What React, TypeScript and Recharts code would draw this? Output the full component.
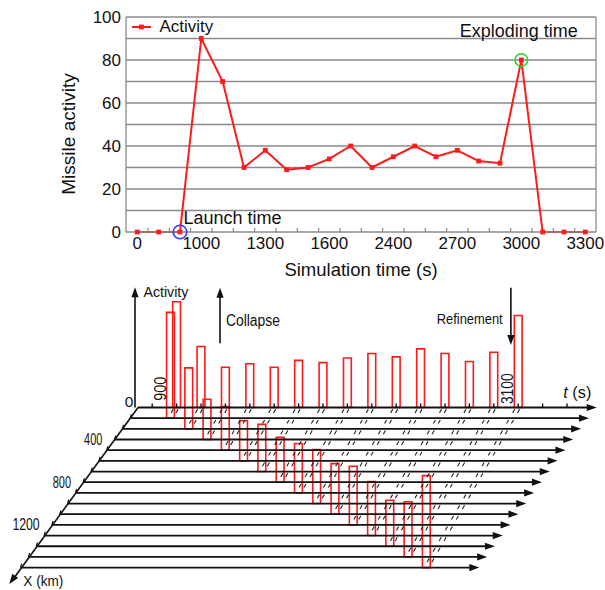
import React from "react";
import {
  LineChart,
  Line,
  XAxis,
  YAxis,
  ReferenceLine,
  ReferenceDot,
  ReferenceArea,
  Legend,
  ComposedChart,
  Scatter,
} from "recharts";

const FONT = "'Liberation Sans', Arial, Helvetica, sans-serif";
const RED = "#ff1a1a";
const GRID = "#8a8a8a";
const INK = "#111";

// ---------- top chart: activity over simulation time ----------
const pointIndex = [0, 1, 2, 3, 4, 5, 6, 7, 8, 9, 10, 11, 12, 13, 14, 15, 16, 17, 18, 19, 20, 21];
const activity = [0, 0, 0, 90, 70, 30, 38, 29, 30, 34, 40, 30, 35, 40, 35, 38, 33, 32, 80, 0, 0, 0];
const timeTickIndex = [0, 3, 6, 9, 12, 15, 18, 21];
const timeTickLabels = ["0", "1000", "1300", "1600", "2400", "2700", "3000", "3300"];
const activityTicks = [0, 20, 40, 60, 80, 100];
const gridValues = [10, 20, 30, 40, 50, 60, 70, 80, 90, 100];
const minorTickIndex = [0.5, 1.5, 2.5, 3.5, 4.5, 5.5, 6.5, 7.5, 8.5, 9.5, 10.5, 11.5, 12.5, 13.5, 14.5, 15.5, 16.5, 17.5, 18.5, 19.5, 20.5];
const LAUNCH = 2;
const EXPLODE = 18;

// ---------- bottom diagram: activity per step on the X (km) rows ----------
const stepIndex = [1, 2, 3, 4, 5, 6, 7, 8, 9, 10, 11, 12, 13, 14, 15];
const stepActivity = [92, 53, 35, 38, 35, 41, 39, 43, 47, 44, 51, 47, 40, 48, 80];
const rowIndex = [0, 1, 2, 3, 4, 5, 6, 7, 8, 9, 10, 11, 12, 13, 14, 15];
const tAxisTicks = [0, 1, 2, 3, 4, 5, 6, 7, 8, 9, 10, 11, 12, 13, 14, 15, 16, 17];
const tAxisLabelTicks = [0, 15];
const tAxisLabels = ["900", "3100"];
const kmLabels = ["0", "400", "800", "1200"];
const kmLabelRows = [0, 3, 7, 11];

const lineData = pointIndex.map((i) => ({ i, activity: activity[i] }));

function SquareDot(props: any) {
  const { cx, cy, index } = props;
  return <rect key={index} x={cx - 2.4} y={cy - 2.4} width={4.8} height={4.8} fill={RED} />;
}

function ActivityLegend() {
  return (
    <div style={{ display: "flex", alignItems: "center", fontFamily: FONT, fontSize: 17, color: INK, lineHeight: "20px" }}>
      <svg width={19} height={10} style={{ marginRight: 9 }}>
        <line x1={0} y1={5} x2={19} y2={5} stroke={RED} strokeWidth={2} />
        <rect x={7} y={2.6} width={4.8} height={4.8} fill={RED} />
      </svg>
      Activity
    </div>
  );
}

function TopChart() {
  const tick = { fontSize: 17, fill: INK, fontFamily: FONT };
  return (
    <LineChart width={605} height={282} data={lineData} margin={{ top: 17, right: 9, bottom: 0, left: 0 }}>
      {gridValues.map((v) => (
        <ReferenceLine key={"g" + v} y={v} stroke={GRID} strokeWidth={1.3} ifOverflow="visible" />
      ))}
      <ReferenceLine x={21.5} stroke={GRID} strokeWidth={1.3} ifOverflow="visible" />
      {minorTickIndex.map((t) => (
        <ReferenceLine key={"m" + t} segment={[{ x: t, y: 0 }, { x: t, y: 1.9 }]} stroke="#777" ifOverflow="visible" />
      ))}
      <XAxis
        type="number"
        dataKey="i"
        domain={[-0.53, 21.5]}
        ticks={timeTickIndex}
        interval={0}
        tickFormatter={(v: number) => timeTickLabels[timeTickIndex.indexOf(v)]}
        tickLine={false}
        tickSize={3}
        tickMargin={2}
        height={50}
        axisLine={{ stroke: GRID, strokeWidth: 1.3 }}
        tick={tick}
        label={{
          content: () => (
            <text x={361} y={275.5} textAnchor="middle" fontSize={18.5} fontFamily={FONT} fill={INK}>
              Simulation time (s)
            </text>
          ),
        }}
      />
      <YAxis
        type="number"
        domain={[0, 100]}
        ticks={activityTicks}
        interval={0}
        width={126}
        tickLine={false}
        tickSize={3}
        tickMargin={2}
        axisLine={{ stroke: GRID, strokeWidth: 1.3 }}
        tick={tick}
        label={{
          content: () => (
            <text transform="translate(68,134) rotate(-90)" textAnchor="middle" dominantBaseline="central" fontSize={19} fontFamily={FONT} fill={INK}>
              Missile activity
            </text>
          ),
        }}
      />
      <Legend
        layout="vertical"
        align="center"
        verticalAlign="middle"
        wrapperStyle={{ left: 131.5, top: 17, width: 120, height: 20 }}
        content={() => <ActivityLegend />}
      />
      <Line type="linear" dataKey="activity" stroke={RED} strokeWidth={2} dot={SquareDot} activeDot={false} isAnimationActive={false} />
      <ReferenceDot x={LAUNCH} y={0} r={6.8} fill="none" stroke="#2f3cff" strokeWidth={1.6} />
      <ReferenceDot x={EXPLODE} y={activity[EXPLODE]} r={6.3} fill="none" stroke="#2bd62b" strokeWidth={1.6} />
      <ReferenceDot
        x={LAUNCH}
        y={0}
        r={0}
        shape={(p: any) => (
          <text x={p.cx + 3.4} y={p.cy - 8.2} fontSize={18} fontFamily={FONT} fill={INK}>
            Launch time
          </text>
        )}
      />
      <ReferenceDot
        x={EXPLODE}
        y={activity[EXPLODE]}
        r={0}
        shape={(p: any) => (
          <text x={p.cx - 2.5} y={p.cy - 23} textAnchor="middle" fontSize={18} fontFamily={FONT} fill={INK}>
            Exploding time
          </text>
        )}
      />
    </LineChart>
  );
}

// projection of the pseudo 3D diagram (tick units across, activity units up)
const TICK_PX = 24.4;
const UNIT_PX = 1.15;
const ORIGIN_X = 152.2;
const ORIGIN_Y = 127.5;
const W2 = 605;
const H2 = 310;
const U_MIN = -ORIGIN_X / TICK_PX;
const U_MAX = (W2 - ORIGIN_X) / TICK_PX;
const V_MAX = ORIGIN_Y / UNIT_PX;
const V_MIN = -(H2 - ORIGIN_Y) / UNIT_PX;
const ROW_DY = 9.28;
const ROW_SHIFT = 0.321;
const BAR_SHIFT = 0.251;
const BAR_HALF = 0.16;
const ROW_START = -0.58;
const ROW_END = 18.22;
const AXIS_U = -0.705;
const AXIS_TOP = 104.5;
const DIAG_END = { u: -5.857, v: -153.5 };
const COLLAPSE_U = 2.78;
const REFINE_U = 14.7;

const rowV = (k: number) => -k * ROW_DY;
const rowStartU = (k: number) => ROW_START - k * ROW_SHIFT;

const arrowHeads = [
  ...rowIndex.map((k) => ({ u: ROW_END - k * ROW_SHIFT, v: rowV(k), angle: 0 })),
  { u: DIAG_END.u, v: DIAG_END.v, angle: 126.2 },
  { u: AXIS_U, v: AXIS_TOP, angle: -90 },
  { u: COLLAPSE_U, v: 104.1, angle: -90 },
  { u: REFINE_U, v: 54.3, angle: 90 },
];

const kmWidths = [undefined, 18.3, 18.3, 27.3];
const diagramLabels: any[] = [
  { u: -0.36, v: 96, text: "Activity", size: 15.5, width: 45 },
  { u: 3.02, v: 71.3, text: "Collapse", size: 16, width: 54 },
  { u: 11.66, v: 72.6, text: "Refinement", size: 15.5, width: 66 },
  { u: 16.85, v: 8.3, italic: "t", text: " (s)", size: 16, width: 28 },
  { u: -5.28, v: -155.2, text: "X (km)", size: 15.5, width: 40 },
  ...tAxisLabels.map((text, i) => ({
    u: tAxisLabelTicks[i] + (i === 0 ? 0.34 : -0.44),
    v: 16.3,
    text,
    size: 16,
    rotate: -90,
    anchor: "middle",
    baseline: "central",
    width: i === 0 ? 24 : 30.6,
  })),
  ...kmLabels.map((text, i) => ({
    u: rowStartU(kmLabelRows[i]) - (i === 0 ? 0.19 : 0.5),
    v: rowV(kmLabelRows[i]) + (i === 0 ? 5.6 : 0),
    text,
    size: i === 0 ? 15.5 : 17,
    anchor: "end",
    baseline: "central",
    width: kmWidths[i],
  })),
];

function ArrowHead(p: any) {
  const { cx, cy, payload } = p;
  return (
    <polygon
      points="0,0 -10,-3.6 -10,3.6"
      transform={`translate(${cx},${cy}) rotate(${payload.angle})`}
      fill={INK}
    />
  );
}

function DiagramText(p: any) {
  const { cx, cy, payload: d } = p;
  const rot = d.rotate ? ` rotate(${d.rotate})` : "";
  return (
    <text
      transform={`translate(${cx},${cy})${rot}`}
      textAnchor={d.anchor ?? "start"}
      dominantBaseline={d.baseline ?? "auto"}
      fontSize={d.size}
      fontFamily={FONT}
      fill={INK}
      textLength={d.width}
      lengthAdjust={d.width ? "spacingAndGlyphs" : undefined}
    >
      {d.italic ? <tspan fontStyle="italic">{d.italic}</tspan> : null}
      {d.text}
    </text>
  );
}

function BottomDiagram() {
  const seg = (a: [number, number], b: [number, number]) => [
    { x: a[0], y: a[1] },
    { x: b[0], y: b[1] },
  ];
  // dash pattern along the skewed guide lines, one short stroke under each row
  const guideLen = Math.hypot(BAR_SHIFT * TICK_PX, ROW_DY * UNIT_PX);
  return (
    <ComposedChart width={W2} height={H2} margin={{ top: 0, right: 0, bottom: 0, left: 0 }}>
      <XAxis type="number" dataKey="u" domain={[U_MIN, U_MAX]} allowDataOverflow hide />
      <YAxis type="number" dataKey="v" domain={[V_MIN, V_MAX]} allowDataOverflow hide />

      {rowIndex.map((k) => (
        <ReferenceLine
          key={"row" + k}
          segment={seg([rowStartU(k), rowV(k)], [ROW_END - k * ROW_SHIFT - 0.3, rowV(k)])}
          stroke={INK}
          strokeWidth={1.8}
          ifOverflow="visible"
        />
      ))}
      <ReferenceLine segment={seg([ROW_START, 0], [DIAG_END.u + 0.15, DIAG_END.v + 4])} stroke={INK} strokeWidth={1.6} ifOverflow="visible" />
      {rowIndex.slice(1).map((k) => (
        <ReferenceLine
          key={"dt" + k}
          segment={seg([rowStartU(k), rowV(k)], [rowStartU(k) + 0.05, rowV(k) + 3.4])}
          stroke={INK}
          strokeWidth={1.2}
          ifOverflow="visible"
        />
      ))}
      <ReferenceLine segment={seg([AXIS_U, 0], [AXIS_U, AXIS_TOP - 7])} stroke={INK} strokeWidth={1.6} ifOverflow="visible" />
      <ReferenceLine segment={seg([COLLAPSE_U, 55.8], [COLLAPSE_U, 97])} stroke={INK} strokeWidth={1.6} ifOverflow="visible" />
      <ReferenceLine segment={seg([REFINE_U, 104.1], [REFINE_U, 61])} stroke={INK} strokeWidth={1.6} ifOverflow="visible" />
      {tAxisTicks.map((t) => (
        <ReferenceLine key={"tt" + t} segment={seg([t, 0], [t, 3.5])} stroke={INK} strokeWidth={1.4} ifOverflow="visible" />
      ))}

      {stepIndex.flatMap((j) =>
        [-0.1, 0.1].map((o) => (
          <ReferenceLine
            key={"gd" + j + "_" + o}
            segment={seg([j + o, 0], [j + o - j * BAR_SHIFT, rowV(j)])}
            stroke="#222"
            strokeWidth={1.1}
            strokeDasharray={`4.2 ${guideLen - 4.2}`}
            strokeDashoffset={guideLen - 2}
            ifOverflow="visible"
          />
        ))
      )}

      {stepIndex.map((j, n) => (
        <ReferenceArea
          key={"b0" + j}
          x1={j - BAR_HALF}
          x2={j + BAR_HALF}
          y1={0}
          y2={stepActivity[n]}
          fill="none"
          stroke={RED}
          strokeWidth={1.6}
          ifOverflow="visible"
        />
      ))}
      {stepIndex.map((j, n) => (
        <ReferenceArea
          key={"bd" + j}
          x1={j - j * BAR_SHIFT - BAR_HALF}
          x2={j - j * BAR_SHIFT + BAR_HALF}
          y1={rowV(j)}
          y2={rowV(j) + stepActivity[n]}
          fill="none"
          stroke={RED}
          strokeWidth={1.6}
          ifOverflow="visible"
        />
      ))}

      <Scatter data={arrowHeads} dataKey="v" shape={ArrowHead} isAnimationActive={false} />
      <Scatter data={diagramLabels} dataKey="v" shape={DiagramText} isAnimationActive={false} />
    </ComposedChart>
  );
}

export default function App() {
  return (
    <div style={{ position: "absolute", left: 0, top: 0, width: 605, height: 590, background: "#fff" }}>
      <div style={{ position: "absolute", left: 0, top: 0 }}>
        <TopChart />
      </div>
      <div style={{ position: "absolute", left: 0, top: 280 }}>
        <BottomDiagram />
      </div>
    </div>
  );
}
